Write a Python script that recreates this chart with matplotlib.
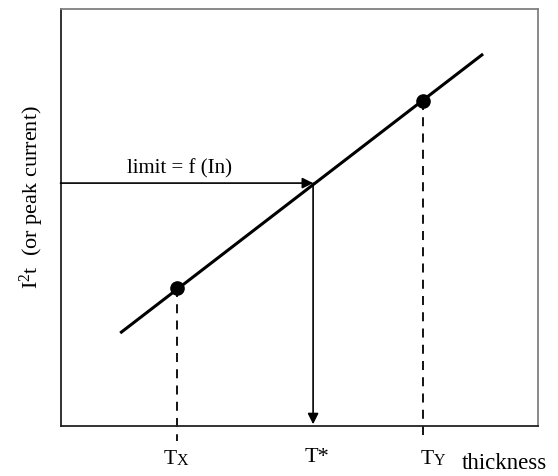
import matplotlib
matplotlib.use("Agg")
import matplotlib.pyplot as plt

plt.rcParams['font.family'] = ['Liberation Serif', 'DejaVu Serif']
plt.rcParams['mathtext.fontset'] = 'custom'
plt.rcParams['mathtext.rm'] = 'Liberation Serif'
plt.rcParams['mathtext.it'] = 'Liberation Serif:italic'

# data (arbitrary units, 0-100 axes)
line_x = [12.5, 88.5]
line_y = [22.2, 89.2]
point_names = ["X", "Y"]
point_x = [24.4, 75.9]
point_y = [33.0, 78.0]
tstar_x = 52.9
tstar_y = 58.2
limit_label = "limit = f (In)"
x_label = "thickness"
y_label = "I$^{2}$t  (or peak current)"

fig = plt.figure(figsize=(5.58, 4.77), dpi=100)
ax = fig.add_axes([60.5 / 558, (477 - 426.5) / 477, 477.5 / 558, 416.5 / 477])
ax.set_xlim(0, 100)
ax.set_ylim(0, 100)
ax.set_xticks([])
ax.set_yticks([])
for s in ['left', 'bottom']:
    ax.spines[s].set_color('#222222')
    ax.spines[s].set_linewidth(1.3)
for s in ['top', 'right']:
    ax.spines[s].set_color('#808080')
    ax.spines[s].set_linewidth(1.3)

# main line
ax.plot(line_x, line_y, color='black', lw=2.2, solid_capstyle='butt', zorder=3)
ax.plot(point_x, point_y, 'o', color='black', ms=9.5, zorder=4)

# dashed drop lines
for px, py in zip(point_x, point_y):
    ax.plot([px, px], [py, -3.8], color='black', lw=1.3, ls=(0, (5, 4)),
            clip_on=False, zorder=2)

# arrows
ax.annotate("", xy=(tstar_x, tstar_y), xytext=(0, tstar_y),
            arrowprops=dict(arrowstyle='-|>', color='black', lw=1.2,
                            mutation_scale=16, shrinkA=0, shrinkB=0), zorder=3)
ax.annotate("", xy=(tstar_x, 0.3), xytext=(tstar_x, tstar_y),
            arrowprops=dict(arrowstyle='-|>', color='black', lw=1.2,
                            mutation_scale=16, shrinkA=0, shrinkB=0), zorder=3)

ax.text(25.0, 59.5, limit_label, fontsize=15, ha='center', va='bottom')

# tick labels below
label_shift = [0.0, 2.2]
for name, px, dx in zip(point_names, point_x, label_shift):
    ax.text(px + dx, -8.0, "T", fontsize=15.5, ha='right', va='center', clip_on=False)
    ax.text(px + dx, -8.3, name, fontsize=11.5, ha='left', va='center', clip_on=False)
ax.text(tstar_x + 0.8, -7.5, "T*", fontsize=16, ha='center', va='center', clip_on=False)
ax.text(92.9, -9.0, x_label, fontsize=16.5, ha='center', va='center', clip_on=False)

fig.text(32 / 558, 1 - 197 / 477, y_label, fontsize=16, rotation=90,
         ha='center', va='center')

fig.savefig("out.png", dpi=100)
